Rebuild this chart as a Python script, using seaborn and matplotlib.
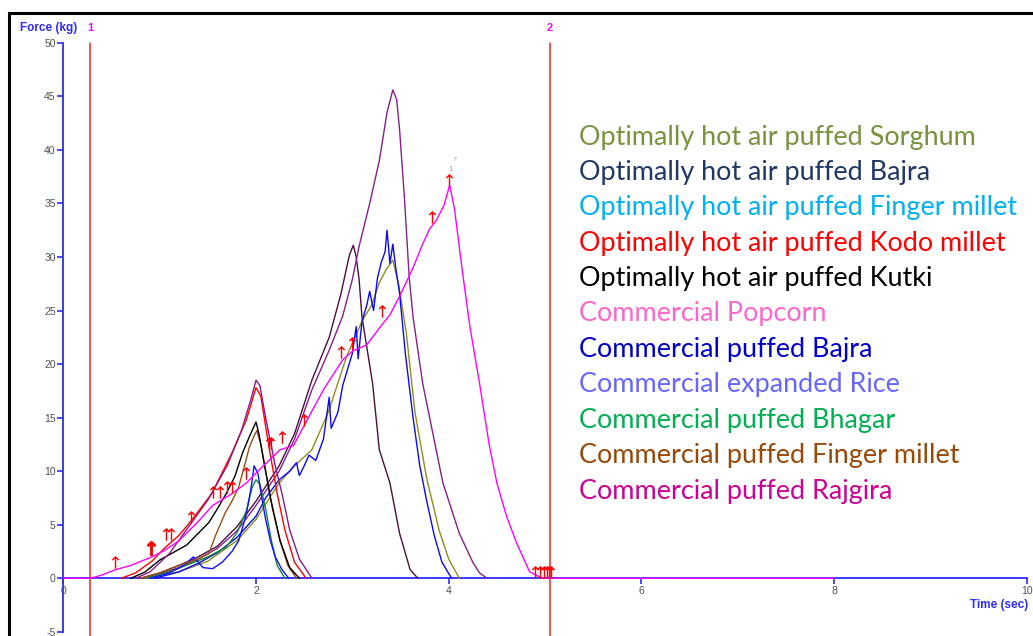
import numpy as np
import pandas as pd
import matplotlib
matplotlib.use("Agg")
import matplotlib.pyplot as plt
import matplotlib.patches as mpatches
import seaborn as sns

# ---------------- data ----------------
popcorn_t = [0, 0.28, 0.4, 0.54, 0.7, 0.92, 1.05, 1.2, 1.4, 1.55, 1.75, 1.9, 2.03, 2.25, 2.39, 2.49, 2.7,
             2.9, 3.0, 3.15, 3.3, 3.39, 3.5, 3.63, 3.72, 3.8, 3.87, 3.95, 4.01, 4.06, 4.14, 4.22, 4.32,
             4.42, 4.5, 4.6, 4.7, 4.84, 4.95, 5.0, 8.0]
popcorn_f = [0, 0, 0.3, 0.8, 1.2, 2.0, 2.6, 3.5, 5.3, 6.8, 7.9, 8.9, 10.1, 12.0, 12.4, 14.1, 17.6,
             20.4, 21.2, 21.8, 23.6, 24.6, 26.5, 29.0, 31.0, 32.6, 33.4, 34.8, 36.7, 34.5, 28.8, 23.5, 18.2,
             12.5, 8.9, 5.8, 3.4, 0.6, 0.1, 0, 0]

rice_t = [0.8, 1.0, 1.2, 1.4, 1.6, 1.8, 2.0, 2.24, 2.4, 2.58, 2.76, 2.9, 3.0, 3.07, 3.18, 3.28, 3.36,
          3.42, 3.46, 3.49, 3.54, 3.59, 3.63, 3.73, 3.87, 3.94, 4.11, 4.25, 4.32, 4.4]
rice_f = [0, 0.4, 1.0, 1.8, 2.8, 4.4, 6.8, 10.0, 13.0, 17.6, 21.3, 24.5, 27.9, 31.0, 35.0, 39.0, 43.5,
          45.6, 44.7, 41.9, 35.6, 28.1, 24.4, 18.2, 12.0, 8.9, 4.2, 1.5, 0.5, 0]

bajra_opt_t = [0.8, 1.0, 1.2, 1.4, 1.6, 1.8, 2.0, 2.24, 2.4, 2.58, 2.76, 2.88, 2.97, 3.01, 3.04, 3.07,
               3.1, 3.21, 3.28, 3.39, 3.49, 3.6, 3.68]
bajra_opt_f = [0, 0.5, 1.2, 2.0, 3.0, 4.8, 7.2, 10.5, 13.5, 18.5, 22.5, 26.5, 30.2, 31.1, 30.0, 27.9,
               24.4, 18.2, 12.0, 8.9, 4.2, 0.8, 0]

bajra_com_t = [0.95, 1.2, 1.4, 1.6, 1.8, 2.0, 2.1, 2.24, 2.35, 2.42, 2.45, 2.5, 2.55, 2.62, 2.7, 2.76,
               2.78, 2.85, 2.9, 2.95, 3.0, 3.04, 3.06, 3.1, 3.15, 3.18, 3.22, 3.26, 3.3, 3.34, 3.36,
               3.39, 3.42, 3.45, 3.49, 3.55, 3.63, 3.7, 3.77, 3.85, 3.93, 4.03]
bajra_com_f = [0, 0.6, 1.4, 2.4, 3.8, 5.8, 7.5, 9.2, 10.0, 10.8, 9.6, 10.5, 11.5, 11.0, 13.0, 16.9,
               14.0, 15.5, 18.0, 19.5, 21.0, 23.5, 20.5, 24.0, 25.5, 26.8, 25.0, 28.0, 29.5, 30.5, 32.5,
               29.4, 31.2, 29.0, 26.6, 21.0, 15.0, 10.5, 7.3, 4.0, 1.5, 0]

sorghum_t = [0.85, 1.2, 1.5, 1.8, 2.0, 2.24, 2.4, 2.58, 2.75, 2.94, 3.1, 3.2, 3.28, 3.35, 3.42, 3.48,
             3.56, 3.65, 3.77, 3.9, 4.0, 4.11]
sorghum_f = [0, 0.6, 1.6, 3.5, 5.5, 8.9, 10.5, 12.0, 15.5, 20.7, 24.0, 25.5, 27.6, 28.8, 29.7, 27.5,
             22.9, 15.5, 9.4, 4.5, 1.8, 0]

rajgira_t = [0.75, 0.9, 1.1, 1.3, 1.5, 1.7, 1.85, 1.95, 2.0, 2.04, 2.1, 2.2, 2.27, 2.35, 2.45, 2.58]
rajgira_f = [0, 0.6, 2.3, 4.8, 7.3, 10.5, 13.8, 16.8, 18.5, 18.0, 15.0, 10.5, 7.9, 4.5, 1.8, 0]

kodo_t = [0.6, 0.75, 0.92, 1.06, 1.2, 1.33, 1.54, 1.75, 1.9, 2.0, 2.05, 2.13, 2.22, 2.3, 2.4, 2.52]
kodo_f = [0, 0.5, 1.6, 2.9, 4.0, 5.4, 7.9, 11.7, 14.8, 17.8, 17.0, 12.5, 7.9, 4.5, 1.5, 0]

kutki_t = [0.7, 0.85, 1.0, 1.28, 1.4, 1.51, 1.6, 1.69, 1.78, 1.86, 1.93, 1.97, 2.0, 2.03, 2.08, 2.15,
           2.25, 2.35, 2.45]
kutki_f = [0, 0.6, 1.7, 3.1, 4.2, 5.2, 6.5, 7.9, 9.5, 11.7, 13.2, 14.0, 14.6, 13.5, 11.0, 7.5,
           3.5, 1.0, 0]

finger_com_t = [0.8, 1.0, 1.2, 1.4, 1.51, 1.58, 1.68, 1.75, 1.82, 1.88, 1.93, 1.98, 2.01, 2.05, 2.1,
                2.17, 2.25, 2.33, 2.42]
finger_com_f = [0, 0.5, 1.2, 1.8, 2.3, 4.0, 6.1, 7.2, 8.5, 10.5, 12.2, 13.3, 13.8, 12.5, 10.0,
                6.5, 3.5, 1.2, 0]

bhagar_t = [0.85, 1.1, 1.33, 1.5, 1.69, 1.8, 1.9, 1.96, 2.0, 2.04, 2.1, 2.16, 2.22, 2.3]
bhagar_f = [0, 0.6, 1.4, 2.0, 2.9, 4.2, 6.3, 8.5, 9.2, 8.8, 6.5, 3.5, 1.2, 0]

finger_opt_t = [0.9, 1.1, 1.25, 1.35, 1.45, 1.55, 1.65, 1.75, 1.82, 1.9, 1.95, 1.98, 2.02, 2.06, 2.1,
                2.15, 2.2, 2.27, 2.34]
finger_opt_f = [0, 0.5, 1.2, 2.0, 1.0, 0.9, 1.5, 2.5, 3.5, 6.0, 8.5, 10.5, 9.8, 7.5, 5.5,
                3.5, 2.0, 0.8, 0]

# event markers (red arrows): base of each arrow
arrow_t = [0.54, 1.07, 1.12, 1.33, 1.55, 1.63, 1.70, 1.75, 1.90, 2.13, 2.16, 2.27, 2.50, 2.88,
           3.00, 3.31, 3.83, 4.00, 4.90, 4.95, 4.99, 5.02, 5.04, 5.06]
arrow_f = [1.0, 3.6, 3.6, 5.2, 7.5, 7.5, 8.0, 8.0, 9.3, 12.1, 12.1, 12.7, 14.3, 20.6,
           21.5, 24.4, 33.2, 36.7, 0.1, 0.1, 0.1, 0.1, 0.1, 0.1]
bold_arrow_t = [0.91]
bold_arrow_f = [2.3]

# vertical markers
marker_t = [0.277, 5.05]
marker_labels = ["1", "2"]

y_ticks = [-5, 0, 5, 10, 15, 20, 25, 30, 35, 40, 45, 50]
x_ticks = [0, 2, 4, 6, 8, 10]

legend_labels = ["Optimally hot air puffed Sorghum", "Optimally hot air puffed Bajra",
                 "Optimally hot air puffed Finger millet", "Optimally hot air puffed Kodo millet",
                 "Optimally hot air puffed Kutki", "Commercial Popcorn", "Commercial puffed Bajra",
                 "Commercial expanded Rice", "Commercial puffed Bhagar",
                 "Commercial puffed Finger millet", "Commercial puffed Rajgira"]
legend_colors = ["#77933C", "#1F3864", "#00B0F0", "#FF0000", "#000000", "#FF66CC", "#0000CC",
                 "#6666FF", "#00B050", "#984807", "#CC0099"]

# traces (draw order: pink last, on top)
traces = [
    ("Optimally hot air puffed Bajra", bajra_opt_t, bajra_opt_f, "#4E0E40"),
    ("Commercial expanded Rice", rice_t, rice_f, "#84218A"),
    ("Optimally hot air puffed Sorghum", sorghum_t, sorghum_f, "#8E8E1C"),
    ("Commercial puffed Bajra", bajra_com_t, bajra_com_f, "#0A0AF0"),
    ("Commercial puffed Bhagar", bhagar_t, bhagar_f, "#128A2E"),
    ("Optimally hot air puffed Finger millet", finger_opt_t, finger_opt_f, "#1010FF"),
    ("Commercial puffed Finger millet", finger_com_t, finger_com_f, "#9A4E12"),
    ("Optimally hot air puffed Kutki", kutki_t, kutki_f, "#000000"),
    ("Optimally hot air puffed Kodo millet", kodo_t, kodo_f, "#FF0000"),
    ("Commercial puffed Rajgira", rajgira_t, rajgira_f, "#8A1A8A"),
    ("Commercial Popcorn", popcorn_t, popcorn_f, "#FF00FF"),
]

frames = []
for name, t, f, _c in traces:
    d = pd.DataFrame({"time": t, "force": f})
    d["sample"] = name
    frames.append(d)
df = pd.concat(frames, ignore_index=True)
palette = {name: c for name, _t, _f, c in traces}
order = [name for name, *_ in traces]

# ---------------- figure ----------------
sns.set_theme(style="white")
plt.rcParams["font.family"] = ["DejaVu Sans"]

W, H = 1033, 636
fig = plt.figure(figsize=(W / 100, H / 100), dpi=100)
ax = fig.add_axes([0, 0, 1, 1])
ax.set_facecolor("white")

x0, sx = 63.3, 96.35
y0, sy = 578.3, 10.71
ax.set_xlim(-x0 / sx, (W - x0) / sx)
ax.set_ylim(-(H - y0) / sy, y0 / sy)

sns.lineplot(data=df, x="time", y="force", hue="sample", hue_order=order, palette=palette,
             estimator=None, sort=False, legend=False, linewidth=1.0, zorder=4, ax=ax)

# red vertical markers
for mt, ml in zip(marker_t, marker_labels):
    ax.plot([mt, mt], [50, -6], color="#FF2020", lw=1.1, zorder=3, clip_on=True)
    ax.text(mt, 51.4, ml, color="#FF00FF", fontsize=8, fontweight="bold",
            ha="center", va="center", family=["Liberation Sans", "DejaVu Sans"])

# arrows as markers (centre placed half an arrow above its base)
arr_off = 5.5 / sy
ax.plot(arrow_t, [v + arr_off for v in arrow_f], linestyle="none", marker=r"$\uparrow$",
        markersize=9, color="#FF0000", markeredgewidth=0, zorder=5)
ax.plot(bold_arrow_t, [v + arr_off for v in bold_arrow_f], linestyle="none", marker=r"$\uparrow$",
        markersize=10, color="#FF0000", markeredgewidth=0.9, zorder=5)
ax.text(4.02, 37.9, "1", color="#9AA0B0", fontsize=5, ha="center", va="bottom")
ax.text(4.07, 38.9, "F", color="#9AA0B0", fontsize=4.5, ha="center", va="bottom")

# axes styling
axis_blue = "#2B2BFF"
for s in ["top", "right"]:
    ax.spines[s].set_visible(False)
ax.spines["left"].set_position(("data", 0))
ax.spines["left"].set_bounds(-5, 50)
ax.spines["bottom"].set_position(("data", 0))
ax.spines["bottom"].set_bounds(0, 10)
for s in ["left", "bottom"]:
    ax.spines[s].set_color(axis_blue)
    ax.spines[s].set_linewidth(1.3)
    ax.spines[s].set_zorder(2)
    ax.spines[s].set_visible(True)

tick_font = ["Liberation Sans Narrow", "Liberation Sans", "DejaVu Sans"]
ax.set_yticks(y_ticks)
ax.set_yticklabels([str(v) for v in y_ticks], family=tick_font, fontsize=7.5, color="#505050")
ax.set_xticks(x_ticks)
ax.set_xticklabels([str(v) for v in x_ticks], family=tick_font, fontsize=7.5, color="#505050")
ax.tick_params(axis="both", direction="out", length=4, width=1.2, color=axis_blue, pad=1.5,
               left=True, bottom=True)
ax.set_xlabel("")
ax.set_ylabel("")
ax.grid(False)

ax.text(-0.45, 51.4, "Force (kg)", color=axis_blue, fontsize=8.5, fontweight="bold",
        ha="left", va="center", family=tick_font)
ax.text(10.02, -2.5, "Time (sec)", color=axis_blue, fontsize=8.5, fontweight="bold",
        ha="right", va="center", family=tick_font)

# frame
fig.patches.append(mpatches.Rectangle((9 / W, -0.2), 1.2, 1.2 - 12.5 / H, transform=fig.transFigure,
                                      fill=False, edgecolor="black", linewidth=2.2, zorder=10))

# text legend
leg_font = ["Lato", "DejaVu Sans"]
texts = []
for i, (lab, col) in enumerate(zip(legend_labels, legend_colors)):
    yb = 144.5 + i * 35.4
    t = fig.text(579 / W, 1 - yb / H, lab, color=col, fontsize=20, family=leg_font,
                 ha="left", va="baseline")
    texts.append(t)
fig.canvas.draw()
r = fig.canvas.get_renderer()
w0 = texts[0].get_window_extent(r).width
fs = 20 * 398.0 / w0
for t in texts:
    t.set_fontsize(fs)

fig.savefig("out.png", dpi=100, facecolor="white")
